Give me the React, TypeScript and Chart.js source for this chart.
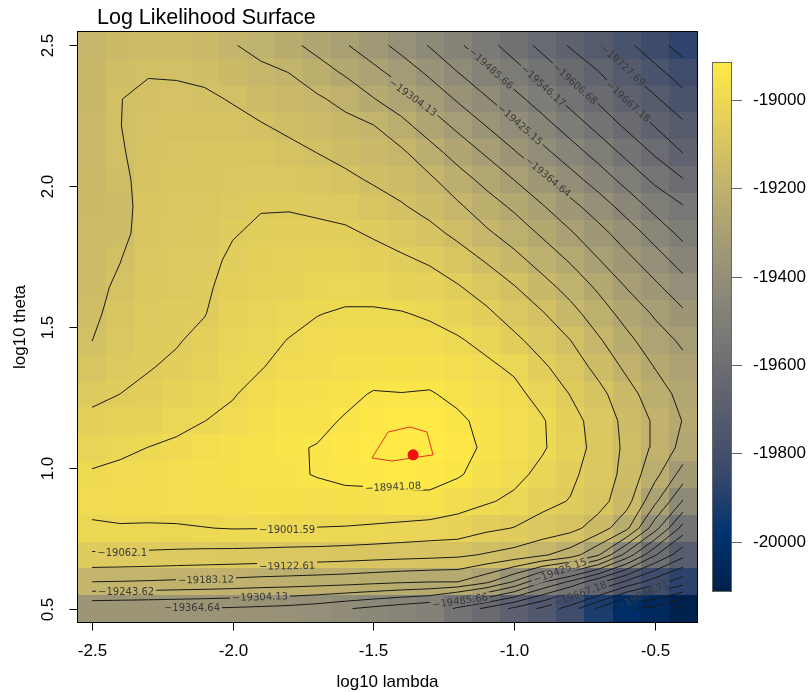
import React, { useEffect, useRef } from "react";
import { Chart, registerables } from "chart.js";

Chart.register(...registerables);

// ---------------- data ----------------
const logLambda = [-2.5, -2.4, -2.3, -2.2, -2.1, -2.0, -1.9, -1.8, -1.7, -1.6, -1.5, -1.4, -1.3, -1.2, -1.1, -1.0, -0.9, -0.8, -0.7, -0.6, -0.5, -0.4];
const logTheta = [0.5, 0.5952, 0.6905, 0.7857, 0.881, 0.9762, 1.0714, 1.1667, 1.2619, 1.3571, 1.4524, 1.5476, 1.6429, 1.7381, 1.8333, 1.9286, 2.0238, 2.119, 2.2143, 2.3095, 2.4048, 2.5];

// rows = logTheta (bottom -> top), columns = logLambda (left -> right)
const logLik = [
  [-19355, -19358, -19361, -19364, -19368, -19372, -19378, -19385, -19398, -19420, -19440, -19460, -19480, -19560, -19620, -19680, -19740, -19820, -19920, -20020, -20050, -20114],
  [-19183, -19185, -19188, -19192, -19195, -19200, -19206, -19210, -19215, -19220, -19228, -19236, -19242, -19243, -19290, -19370, -19480, -19556, -19650, -19740, -19820, -19880],
  [-19070, -19072, -19074, -19077, -19080, -19082, -19084, -19087, -19089, -19093, -19098, -19102, -19106, -19112, -19128, -19145, -19175, -19213, -19300, -19450, -19600, -19710],
  [-19007, -19005, -19007, -19007, -19003, -18999, -19000, -19002, -19003, -19005, -19009, -19016, -19023, -19027, -19050, -19064, -19085, -19104, -19150, -19230, -19400, -19570],
  [-18990, -18985, -18980, -18975, -18970, -18966, -18960, -18958, -18965, -18960, -18961, -18955, -18955, -18979, -18995, -19014, -19046, -19065, -19100, -19160, -19290, -19430],
  [-18996, -18990, -18985, -18975, -18965, -18958, -18955, -18950, -18938, -18928, -18924, -18921, -18922, -18935, -18965, -18985, -19017, -19050, -19090, -19140, -19225, -19330],
  [-19022, -19011, -19001, -18993, -18975, -18965, -18955, -18946, -18939, -18925, -18918, -18914, -18916, -18922, -18950, -18975, -18995, -19035, -19082, -19135, -19195, -19262],
  [-19049, -19037, -19026, -19014, -19002, -18990, -18970, -18955, -18952, -18937, -18922, -18917, -18921, -18932, -18955, -18975, -18996, -19042, -19085, -19140, -19192, -19246],
  [-19075, -19062, -19050, -19033, -19017, -19005, -18985, -18968, -18965, -18952, -18938, -18940, -18937, -18953, -18975, -18985, -19023, -19064, -19105, -19160, -19215, -19262],
  [-19100, -19075, -19065, -19053, -19033, -19015, -19004, -18985, -18977, -18967, -18961, -18959, -18963, -18975, -18990, -19011, -19053, -19090, -19140, -19195, -19245, -19287],
  [-19123, -19088, -19070, -19066, -19049, -19025, -19014, -19000, -18990, -18982, -18979, -18979, -18985, -18996, -19017, -19050, -19085, -19122, -19176, -19228, -19278, -19314],
  [-19135, -19100, -19075, -19070, -19064, -19035, -19024, -19015, -19003, -18997, -18996, -18999, -19008, -19026, -19051, -19086, -19118, -19163, -19214, -19266, -19311, -19355],
  [-19140, -19112, -19081, -19075, -19070, -19045, -19034, -19027, -19020, -19015, -19018, -19026, -19038, -19058, -19088, -19120, -19162, -19205, -19254, -19307, -19353, -19401],
  [-19143, -19124, -19087, -19080, -19076, -19054, -19044, -19039, -19036, -19034, -19042, -19054, -19069, -19097, -19127, -19165, -19207, -19250, -19302, -19350, -19398, -19451],
  [-19147, -19141, -19093, -19085, -19082, -19065, -19054, -19051, -19051, -19054, -19068, -19085, -19107, -19135, -19173, -19210, -19252, -19298, -19345, -19395, -19449, -19502],
  [-19150, -19143, -19098, -19090, -19088, -19077, -19065, -19065, -19071, -19080, -19099, -19118, -19141, -19174, -19216, -19254, -19300, -19347, -19395, -19449, -19504, -19543],
  [-19152, -19134, -19104, -19096, -19094, -19089, -19083, -19087, -19097, -19111, -19129, -19146, -19173, -19219, -19261, -19305, -19352, -19402, -19453, -19507, -19558, -19604],
  [-19155, -19126, -19109, -19102, -19100, -19100, -19101, -19109, -19123, -19139, -19155, -19173, -19221, -19267, -19311, -19359, -19408, -19458, -19509, -19561, -19614, -19668],
  [-19158, -19123, -19114, -19108, -19108, -19113, -19119, -19133, -19149, -19165, -19181, -19226, -19272, -19317, -19365, -19413, -19462, -19513, -19564, -19617, -19669, -19716],
  [-19162, -19123, -19118, -19115, -19117, -19125, -19143, -19159, -19175, -19200, -19241, -19277, -19322, -19372, -19419, -19466, -19516, -19567, -19617, -19671, -19720, -19767],
  [-19166, -19135, -19124, -19126, -19130, -19152, -19169, -19184, -19216, -19252, -19288, -19328, -19377, -19425, -19471, -19521, -19570, -19620, -19665, -19723, -19770, -19820],
  [-19172, -19150, -19138, -19145, -19160, -19179, -19203, -19228, -19263, -19299, -19339, -19386, -19429, -19475, -19524, -19574, -19623, -19673, -19725, -19774, -19825, -19873],
];

const contourLevels = [-18941.08, -19001.59, -19062.1, -19122.61, -19183.12, -19243.62, -19304.13, -19364.64, -19425.15, -19485.66, -19546.17, -19606.68, -19667.18, -19727.69, -19788.2, -19848.71, -19909.22, -19969.73, -20030.24, -20090.75];

// contour labels (value, position, angle in degrees, clockwise)
const labelValue = [-18941.08, -19001.59, -19062.1, -19122.61, -19183.12, -19243.62, -19304.13, -19364.64, -19425.15, -19485.66, -19667.18, -19848.71, -19304.13, -19485.66, -19546.17, -19606.68, -19727.69, -19667.18, -19425.15, -19364.64];
const labelX = [-1.43, -1.807, -2.393, -1.807, -2.095, -2.379, -1.903, -2.145, -0.837, -1.192, -0.766, -0.542, -1.359, -1.082, -0.897, -0.784, -0.613, -0.595, -0.979, -0.88];
const labelY = [0.932, 0.779, 0.698, 0.651, 0.602, 0.559, 0.541, 0.503, 0.634, 0.527, 0.552, 0.548, 2.314, 2.417, 2.356, 2.363, 2.428, 2.3, 2.218, 2.033];
const labelAngle = [-3, 0, 0, -1, -1, 0, -2, 0, -20, -8, -20, -25, 36, 42, 42, 42, 42, 42, 41, 40];

// confidence region (red) and maximum likelihood estimate
const confLambda = [-1.505, -1.448, -1.37, -1.31, -1.288, -1.434, -1.505];
const confTheta = [1.035, 1.127, 1.145, 1.127, 1.046, 1.024, 1.035];
const mleLambda = [-1.359];
const mleTheta = [1.046];

const xTicks = [-2.5, -2.0, -1.5, -1.0, -0.5];
const yTicks = [0.5, 1.0, 1.5, 2.0, 2.5];
const colorbarTicks = [-19000, -19200, -19400, -19600, -19800, -20000];

const TITLE = "Log Likelihood Surface";
const X_TITLE = "log10 lambda";
const Y_TITLE = "log10 theta";

// ---------------- helpers ----------------
const CIVIDIS = ["#00204D", "#00336F", "#39486B", "#575C6D", "#707173", "#8A8779", "#A69D75", "#C4B56C", "#E4CF5B", "#FFEA46"];
const CIV_RGB = CIVIDIS.map((h) => [parseInt(h.slice(1, 3), 16), parseInt(h.slice(3, 5), 16), parseInt(h.slice(5, 7), 16)]);

const allZ = logLik.flat();
const zMin = Math.min(...allZ);
const zMax = Math.max(...allZ);

function colorFor(v: number): string {
  let t = (v - zMin) / (zMax - zMin);
  t = Math.max(0, Math.min(1, t));
  const p = t * (CIV_RGB.length - 1);
  const k = Math.min(CIV_RGB.length - 2, Math.floor(p));
  const f = p - k;
  const a = CIV_RGB[k];
  const b = CIV_RGB[k + 1];
  const r = Math.round(a[0] + f * (b[0] - a[0]));
  const g = Math.round(a[1] + f * (b[1] - a[1]));
  const bl = Math.round(a[2] + f * (b[2] - a[2]));
  return `rgb(${r},${g},${bl})`;
}

function cellEdges(v: number[]): number[] {
  const n = v.length;
  const e = [v[0] - (v[1] - v[0]) / 2];
  for (let i = 0; i < n - 1; i++) e.push((v[i] + v[i + 1]) / 2);
  e.push(v[n - 1] + (v[n - 1] - v[n - 2]) / 2);
  return e;
}
const xEdges = cellEdges(logLambda);
const yEdges = cellEdges(logTheta);

function contourPaths(level: number): { x: number; y: number }[][] {
  const X = logLambda, Y = logTheta, Z = logLik;
  const nx = X.length, ny = Y.length;
  const coords = new Map<string, [number, number]>();
  const adj = new Map<string, string[]>();
  const hKey = (i: number, j: number) => {
    const k = `h${i}_${j}`;
    if (!coords.has(k)) {
      const t = (level - Z[j][i]) / (Z[j][i + 1] - Z[j][i]);
      coords.set(k, [X[i] + t * (X[i + 1] - X[i]), Y[j]]);
    }
    return k;
  };
  const vKey = (i: number, j: number) => {
    const k = `v${i}_${j}`;
    if (!coords.has(k)) {
      const t = (level - Z[j][i]) / (Z[j + 1][i] - Z[j][i]);
      coords.set(k, [X[i], Y[j] + t * (Y[j + 1] - Y[j])]);
    }
    return k;
  };
  const link = (a: string, b: string) => {
    if (!adj.has(a)) adj.set(a, []);
    if (!adj.has(b)) adj.set(b, []);
    adj.get(a)!.push(b);
    adj.get(b)!.push(a);
  };
  for (let j = 0; j < ny - 1; j++) {
    for (let i = 0; i < nx - 1; i++) {
      const a = Z[j][i] > level, b = Z[j][i + 1] > level, c = Z[j + 1][i + 1] > level, d = Z[j + 1][i] > level;
      const code = (a ? 1 : 0) | (b ? 2 : 0) | (c ? 4 : 0) | (d ? 8 : 0);
      if (code === 0 || code === 15) continue;
      const B = () => hKey(i, j), R = () => vKey(i + 1, j), T = () => hKey(i, j + 1), L = () => vKey(i, j);
      const center = (Z[j][i] + Z[j][i + 1] + Z[j + 1][i + 1] + Z[j + 1][i]) / 4 > level;
      switch (code) {
        case 1: case 14: link(B(), L()); break;
        case 2: case 13: link(B(), R()); break;
        case 4: case 11: link(R(), T()); break;
        case 8: case 7: link(L(), T()); break;
        case 3: case 12: link(L(), R()); break;
        case 6: case 9: link(B(), T()); break;
        case 5:
          if (center) { link(B(), R()); link(L(), T()); } else { link(B(), L()); link(R(), T()); }
          break;
        case 10:
          if (center) { link(B(), L()); link(R(), T()); } else { link(B(), R()); link(L(), T()); }
          break;
      }
    }
  }
  const used = new Set<string>();
  const sid = (p: string, q: string) => (p < q ? p + "|" + q : q + "|" + p);
  const walk = (start: string) => {
    const path = [start];
    let cur = start;
    for (;;) {
      const nb = adj.get(cur) || [];
      let nxt: string | null = null;
      for (const n of nb) {
        const id = sid(cur, n);
        if (!used.has(id)) { used.add(id); nxt = n; break; }
      }
      if (nxt === null) break;
      path.push(nxt);
      cur = nxt;
    }
    return path;
  };
  const paths: string[][] = [];
  for (const [k, nb] of adj) if (nb.length === 1) { const p = walk(k); if (p.length > 1) paths.push(p); }
  for (const [k] of adj) { const p = walk(k); if (p.length > 1) paths.push(p); }
  return paths.map((p) => p.map((k) => ({ x: coords.get(k)![0], y: coords.get(k)![1] })));
}

function fmtLevel(v: number): string {
  return (v < 0 ? "\u2212" : "") + String(Math.abs(v));
}

const LABEL_FONT = '10px "DejaVu Sans", sans-serif';
const AXIS_FONT = '17px "Liberation Sans", Arial, Helvetica, sans-serif';

function labelBoxes(chart: any) {
  const { ctx, scales } = chart;
  ctx.save();
  ctx.font = LABEL_FONT;
  const boxes = labelValue.map((v, i) => {
    const text = fmtLevel(v);
    const w = ctx.measureText(text).width;
    return {
      text,
      cx: scales.x.getPixelForValue(labelX[i]),
      cy: scales.y.getPixelForValue(labelY[i]),
      a: (labelAngle[i] * Math.PI) / 180,
      hw: w / 2 + 2,
      hh: 5,
    };
  });
  ctx.restore();
  return boxes;
}

const surfacePlugin = {
  id: "surface",
  beforeDatasetsDraw(chart: any) {
    const { ctx, scales } = chart;
    ctx.save();
    for (let j = 0; j < logTheta.length; j++) {
      for (let i = 0; i < logLambda.length; i++) {
        const x0 = Math.round(scales.x.getPixelForValue(xEdges[i]));
        const x1 = Math.round(scales.x.getPixelForValue(xEdges[i + 1]));
        const y0 = Math.round(scales.y.getPixelForValue(yEdges[j + 1]));
        const y1 = Math.round(scales.y.getPixelForValue(yEdges[j]));
        ctx.fillStyle = colorFor(logLik[j][i]);
        ctx.fillRect(x0, y0, x1 - x0, y1 - y0);
      }
    }
    ctx.restore();
  },
  beforeDatasetDraw(chart: any, args: any) {
    const ds = chart.data.datasets[args.index];
    if (!ds.isContour) return;
    const ctx = chart.ctx;
    ctx.save();
    ctx.beginPath();
    ctx.rect(0, 0, chart.width, chart.height);
    for (const b of labelBoxes(chart)) {
      const c = Math.cos(b.a), s = Math.sin(b.a);
      const pts = [[-b.hw, -b.hh], [b.hw, -b.hh], [b.hw, b.hh], [-b.hw, b.hh]].map(([u, v]) => [b.cx + u * c - v * s, b.cy + u * s + v * c]);
      ctx.moveTo(pts[0][0], pts[0][1]);
      for (let k = 1; k < 4; k++) ctx.lineTo(pts[k][0], pts[k][1]);
      ctx.closePath();
    }
    ctx.clip("evenodd");
  },
  afterDatasetDraw(chart: any, args: any) {
    const ds = chart.data.datasets[args.index];
    if (!ds.isContour) return;
    chart.ctx.restore();
  },
  afterDatasetsDraw(chart: any) {
    const { ctx, chartArea } = chart;
    ctx.save();
    ctx.beginPath();
    ctx.rect(chartArea.left, chartArea.top, chartArea.right - chartArea.left, chartArea.bottom - chartArea.top);
    ctx.clip();
    ctx.font = LABEL_FONT;
    ctx.fillStyle = "#3a3a3a";
    ctx.textAlign = "center";
    ctx.textBaseline = "middle";
    for (const b of labelBoxes(chart)) {
      ctx.save();
      ctx.translate(b.cx, b.cy);
      ctx.rotate(b.a);
      ctx.fillText(b.text, 0, 0.5);
      ctx.restore();
    }
    ctx.restore();
  },
  afterDraw(chart: any) {
    const { ctx, chartArea: ca, scales } = chart;
    const px = (v: number) => Math.round(scales.x.getPixelForValue(v)) + 0.5;
    const py = (v: number) => Math.round(scales.y.getPixelForValue(v)) + 0.5;
    ctx.save();
    ctx.strokeStyle = "#000";
    ctx.lineWidth = 1;
    // plot box
    ctx.strokeRect(Math.round(ca.left) - 0.5, Math.round(ca.top) - 0.5, Math.round(ca.right - ca.left) + 1, Math.round(ca.bottom - ca.top) + 1);
    // x axis
    const yb = Math.round(ca.bottom) + 0.5;
    ctx.beginPath();
    ctx.moveTo(px(xTicks[0]), yb);
    ctx.lineTo(px(xTicks[xTicks.length - 1]), yb);
    for (const t of xTicks) { ctx.moveTo(px(t), yb); ctx.lineTo(px(t), yb + 8); }
    // y axis
    const xl = Math.round(ca.left) - 0.5;
    ctx.moveTo(xl, py(yTicks[0]));
    ctx.lineTo(xl, py(yTicks[yTicks.length - 1]));
    for (const t of yTicks) { ctx.moveTo(xl, py(t)); ctx.lineTo(xl - 8, py(t)); }
    ctx.stroke();

    ctx.fillStyle = "#000";
    ctx.font = AXIS_FONT;
    ctx.textAlign = "center";
    ctx.textBaseline = "middle";
    for (const t of xTicks) ctx.fillText(t.toFixed(1), px(t), 651);
    for (const t of yTicks) {
      ctx.save();
      ctx.translate(48, py(t));
      ctx.rotate(-Math.PI / 2);
      ctx.fillText(t.toFixed(1), 0, 0);
      ctx.restore();
    }
    ctx.fillText(X_TITLE, (ca.left + ca.right) / 2, 682);
    ctx.save();
    ctx.translate(20, (ca.top + ca.bottom) / 2);
    ctx.rotate(-Math.PI / 2);
    ctx.fillText(Y_TITLE, 0, 0);
    ctx.restore();

    // title
    ctx.font = '21.5px "Liberation Sans", Arial, Helvetica, sans-serif';
    ctx.textAlign = "left";
    ctx.textBaseline = "alphabetic";
    ctx.fillText(TITLE, 97, 24);

    // colour bar
    const cbL = 712, cbR = 732, cbT = 62, cbB = 592;
    for (let yy = cbT; yy < cbB; yy++) {
      const v = zMax - ((yy + 0.5 - cbT) / (cbB - cbT)) * (zMax - zMin);
      ctx.fillStyle = colorFor(v);
      ctx.fillRect(cbL, yy, cbR - cbL, 1);
    }
    ctx.strokeStyle = "#666";
    ctx.strokeRect(cbL + 0.5, cbT + 0.5, cbR - cbL - 1, cbB - cbT - 1);
    ctx.font = AXIS_FONT;
    ctx.fillStyle = "#000";
    ctx.textAlign = "left";
    ctx.textBaseline = "middle";
    ctx.beginPath();
    for (const t of colorbarTicks) {
      const yy = Math.round(cbT + ((zMax - t) / (zMax - zMin)) * (cbB - cbT)) + 0.5;
      ctx.moveTo(cbR, yy);
      ctx.lineTo(cbR + 10, yy);
      ctx.fillText(String(t), 753, yy);
    }
    ctx.stroke();
    ctx.restore();
  },
};

export default function App() {
  const ref = useRef<HTMLCanvasElement>(null);
  useEffect(() => {
    const datasets: any[] = [];
    datasets.push({
      label: "MLE",
      data: mleLambda.map((x, i) => ({ x, y: mleTheta[i] })),
      pointRadius: 5.5,
      pointBackgroundColor: "#f01010",
      pointBorderWidth: 0,
      showLine: false,
      order: 0,
    });
    datasets.push({
      label: "confidence region",
      data: confLambda.map((x, i) => ({ x, y: confTheta[i] })),
      showLine: true,
      pointRadius: 0,
      borderColor: "#e8321e",
      borderWidth: 1,
      order: 1,
    });
    for (const lev of contourLevels) {
      for (const path of contourPaths(lev)) {
        datasets.push({
          label: String(lev),
          data: path,
          showLine: true,
          pointRadius: 0,
          borderColor: "#1a1a1a",
          borderWidth: 1,
          borderJoinStyle: "round",
          isContour: true,
          order: 2,
        });
      }
    }
    const chart = new Chart(ref.current!, {
      type: "scatter",
      data: { datasets },
      options: {
        responsive: false,
        animation: false,
        devicePixelRatio: 1,
        events: [],
        layout: { padding: { left: 78, right: 112, top: 32, bottom: 70 } },
        plugins: { legend: { display: false }, tooltip: { enabled: false }, title: { display: false } },
        scales: {
          x: { type: "linear", min: xEdges[0], max: xEdges[xEdges.length - 1], display: false },
          y: { type: "linear", min: yEdges[0], max: yEdges[yEdges.length - 1], display: false },
        },
      },
      plugins: [surfacePlugin],
    } as any);
    return () => chart.destroy();
  }, []);
  return (
    <div style={{ position: "absolute", left: 0, top: 0, width: 809, height: 692, background: "#fff" }}>
      <canvas ref={ref} width={809} height={692} style={{ display: "block", width: 809, height: 692 }} />
    </div>
  );
}
